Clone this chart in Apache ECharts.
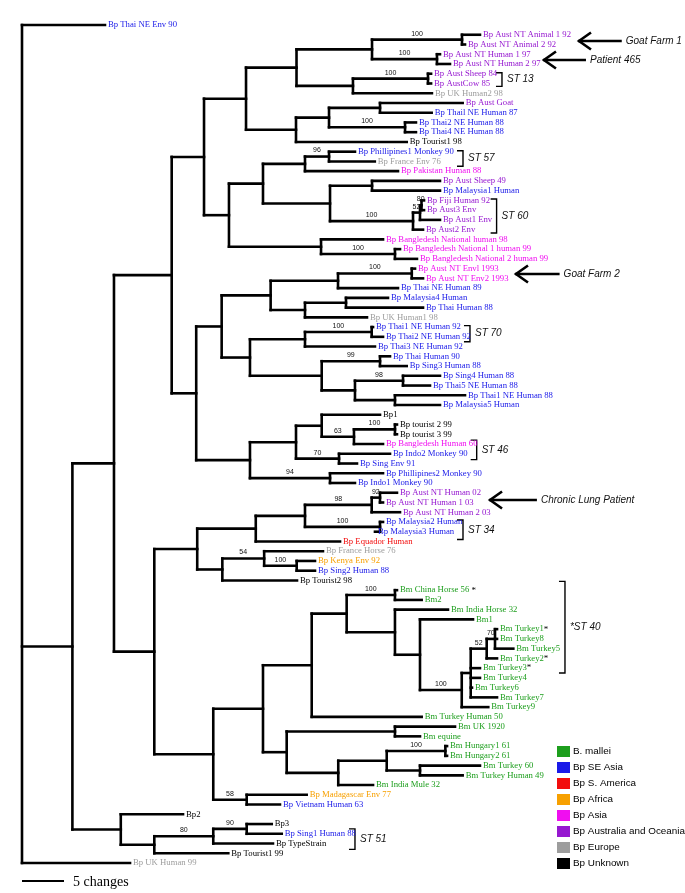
<!DOCTYPE html>
<html><head><meta charset="utf-8">
<script src="https://cdn.jsdelivr.net/npm/echarts@6/dist/echarts.min.js"></script>
<style>html,body{margin:0;padding:0;background:#fff}#c{width:685px;height:893px}</style>
</head><body><div id="c"></div><script>
// ---- leaves (top to bottom) ----
const taxa = ['Bp Thai NE Env 90','Bp Aust NT Animal 1 92','Bp Aust NT Animal 2 92','Bp Aust NT Human 1 97','Bp Aust NT Human 2 97','Bp Aust Sheep 84','Bp AustCow 85','Bp UK Human2 98','Bp Aust Goat','Bp Thail NE Human 87',
'Bp Thai2 NE Human 88','Bp Thai4 NE Human 88','Bp Tourist1 98','Bp Phillipines1 Monkey 90','Bp France Env 76','Bp Pakistan Human 88','Bp Aust Sheep 49','Bp Malaysia1 Human','Bp Fiji Human 92','Bp Aust3 Env',
'Bp Aust1 Env','Bp Aust2 Env','Bp Bangledesh National human 98','Bp Bangledesh National 1 human 99','Bp Bangledesh National 2 human 99','Bp Aust NT Envl 1993','Bp Aust NT Env2 1993','Bp Thai NE Human 89','Bp Malaysia4 Human','Bp Thai Human 88',
'Bp UK Human1 98','Bp Thai1 NE Human 92','Bp Thai2 NE Human 92','Bp Thai3 NE Human 92','Bp Thai Human 90','Bp Sing3 Human 88','Bp Sing4 Human 88','Bp Thai5 NE Human 88','Bp Thai1 NE Human 88','Bp Malaysia5 Human',
'Bp1','Bp tourist 2 99','Bp tourist 3 99','Bp Bangledesh Human 60','Bp Indo2 Monkey 90','Bp Sing Env 91','Bp Phillipines2 Monkey 90','Bp Indo1 Monkey 90','Bp Aust NT Human 02','Bp Aust NT Human 1 03',
'Bp Aust NT Human 2 03','Bp Malaysia2 Human','Bp Malaysia3 Human','Bp Equador Human','Bp France Horse 76','Bp Kenya Env 92','Bp Sing2 Human 88','Bp Tourist2 98','Bm China Horse 56 *','Bm2',
'Bm India Horse 32','Bm1','Bm Turkey1*','Bm Turkey8','Bm Turkey5','Bm Turkey2*','Bm Turkey3*','Bm Turkey4','Bm Turkey6','Bm Turkey7',
'Bm Turkey9','Bm Turkey Human 50','Bm UK 1920','Bm equine','Bm Hungary1 61','Bm Hungary2 61','Bm Turkey 60','Bm Turkey Human 49','Bm India Mule 32','Bp Madagascar Env 77',
'Bp Vietnam Human 63','Bp2','Bp3','Bp Sing1 Human 88','Bp TypeStrain','Bp Tourist1 99','Bp UK Human 99'];
// colour group of each leaf (index into groupNames), as coloured in the figure
const taxonGroup = [1,5,5,5,5,5,5,6,5,1, 1,1,7,1,6,4,5,1,5,5, 5,5,4,4,4,4,4,1,1,1, 6,1,1,1,1,1,1,1,1,1, 7,7,7,4,1,1,1,1,5,5, 5,1,1,2,6,3,1,7,0,0, 0,0,0,0,0,0,0,0,0,0, 0,0,0,0,0,0,0,0,0,3, 1,7,7,1,7,7,6];
// distance from root to each tip, in "changes"
const tipDepth = [9.88,54.52,52.74,49.76,50.95,48.7,48.7,48.8,52.46,48.77, 46.9,46.9,45.8,39.64,42.0,44.76,49.76,49.76,47.86,47.86, 49.76,47.74,42.98,45.0,47.02,46.79,47.74,44.76,43.57,47.74, 41.07,41.79,42.98,42.02,43.81,45.8,49.76,48.57,52.74,49.76, 42.62,44.64,44.64,42.98,43.81,39.88,42.98,39.64,44.64,42.98, 45.0,42.98,42.02,37.86,35.83,34.88,34.88,32.74,44.64,47.58, 50.71,53.69,56.55,56.55,58.49,56.55,54.52,54.52,53.57,56.55, 55.51,47.58,51.55,47.38,50.6,50.6,54.52,52.46,41.79,33.89, 30.71,19.17,29.73,30.92,29.88,24.56,12.86];
const groupNames = ['B. mallei','Bp SE Asia','Bp S. America','Bp Africa','Bp Asia','Bp Australia and Oceania','Bp Europe','Bp Unknown'];
const groupColors = ['#1d9e1d','#1a1ae8','#f20d0d','#f7a000','#f00ef0','#9618d0','#9d9d9d','#000000'];
// ---- internal nodes: [id, depth (changes), children (leaf number or node id), bootstrap] ----
const clades = [
['root',0,[1,'N1',87]], ['N1',6.0,['N2','BB']], ['N2',10.95,['P13','N4']], ['P13',17.82,['P5','N6']],
['P5',21.67,['P2','P6']], ['P2',26.67,['P1','P3']], ['P1',32.68,['AN','SCU']], ['AN',41.67,['AM','HU']],
['AM',52.38,[2,3],100], ['HU',49.4,[4,5],100], ['SCU',39.4,['SC',8]], ['SC',48.33,[6,7],100],
['P3',32.62,['P4',13]], ['P4',36.55,['GT','TT']], ['GT',42.62,[9,10]], ['TT',45.6,[11,12],100],
['P6',24.64,['P7','P11']], ['P7',28.69,['P8','P10']], ['P8',33.69,['P9',16]], ['P9',36.55,[14,15],96],
['P10',36.67,['Q1','Q2']], ['Q1',41.67,[17,18]], ['Q2',46.55,['Q4',22],100], ['Q4',47.38,['Q5',21],52],
['Q5',47.56,[19,20],80], ['P11',35.6,[23,'P12']], ['P12',44.4,[24,25],100],
['N6',20.74,['R6','S6']], ['R6',23.77,['R5','R14']], ['R5',29.6,['R2','R3']], ['R2',37.62,['R1',28]],
['R1',46.4,[26,27],100], ['R3',33.69,['R4',31]], ['R4',38.57,[29,30]], ['R14',27.14,['R8','R10']],
['R8',33.69,['R7',34]], ['R7',41.63,[32,33],100], ['R10',35.68,['R9','R13']], ['R9',42.62,[35,36],99],
['R13',39.64,['R11','R12']], ['R11',45.36,[37,38],98], ['R12',44.4,[39,40]],
['S6',27.14,['S4','S5']], ['S4',32.62,['S2','S3']], ['S2',35.68,[41,'S1']], ['S1',39.52,['T23',44],63],
['T23',44.4,[42,43],100], ['S3',37.74,[45,46],70], ['S5',36.67,[47,48],94],
['N4',15.75,['V6','X2']], ['V6',20.86,['V5','V3']], ['V5',27.83,['T3',54]], ['T3',33.69,['T2','T4']],
['T2',41.63,['T1',51],98], ['T1',42.62,[49,50],92], ['T4',42.62,[52,53],100],
['V3',23.85,['V2',58]], ['V2',28.83,[55,'U1'],54], ['U1',32.7,[56,57],100],
['X2',22.77,['BM0','X1']], ['BM0',28.69,['AB','Y3']], ['AB',34.49,['AA2',72]], ['AA2',38.65,['AA1','AA3']],
['AA1',44.4,[59,60],100], ['AA3',44.4,[61,'Z5']], ['Z5',47.38,[62,'Z4']], ['Z4',52.35,['Z3',71],100],
['Z3',53.42,['Z2',67,68,69,70]], ['Z2',55.32,['Z1',66],52], ['Z1',56.31,[63,64,65],70],
['Y3',31.51,['AC','Y2']], ['AC',44.4,[73,74]], ['Y2',37.65,['Y1',79]], ['Y1',43.42,['HG','TK']],
['HG',50.4,[75,76],100], ['TK',47.38,[77,78]], ['X1',26.75,[80,81],58],
['BB',11.76,[82,'W3']], ['W3',15.75,['W2',86]], ['W2',22.77,['W1',85],80], ['W1',26.75,[83,84],90]
];
// ---- annotations ----
const stLabels = ['ST 13','ST 57','ST 60','ST 70','ST 46','ST 34','*ST 40','ST 51'];
const stX = [57.14,52.5,56.5,53.33,54.13,52.5,64.64,39.64];
const stFrom = [5.9,13.9,18.85,31.85,43.6,51.8,58.1,83.5];
const stTo = [7.3,15.5,22.35,33.5,45.6,53.8,67.5,85.6];
const arrowLabels = ['Goat Farm 1','Patient 465','Goat Farm 2','Chronic Lung Patient'];
const arrowY = [2.64,4.59,26.55,49.75];
const arrowTip = [66.19,62.02,58.69,55.6];
const arrowTail = [71.4,67.14,64.0,61.3];
const scaleBar = [0,5,88.85];

// ---- build tree geometry ----
const byId = {}; clades.forEach(c => byId[c[0]] = c);
const pos = {}, parentDepth = {};
function place(ch){
  if (typeof ch === 'number') return {x: tipDepth[ch-1], y: ch};
  if (pos[ch]) return pos[ch];
  const c = byId[ch];
  const kids = c[2].map(place);
  c[2].forEach(k => { if (typeof k !== 'number') parentDepth[k] = c[1]; });
  return pos[ch] = {x: c[1], y: (kids[0].y + kids[kids.length-1].y)/2};
}
place('root');
const segs = [];
clades.forEach(c => {
  const p = pos[c[0]]; const kids = c[2].map(place);
  segs.push([p.x, kids[0].y, p.x, kids[kids.length-1].y]);
  kids.forEach(k => segs.push([p.x, k.y, k.x, k.y]));
});
const boot = clades.filter(c => c[3] != null).map(c => [(parentDepth[c[0]] + c[1])/2, pos[c[0]].y, c[3]]);

const leafSeries = groupNames.map((g, gi) => ({
  type:'scatter', name:g, symbolSize:0, silent:true,
  itemStyle:{color:groupColors[gi], opacity:1},
  data: taxa.map((t,i)=>[tipDepth[i], i+1, t, taxonGroup[i]]).filter(d=>d[3]===gi),
  label:{show:true, position:'right', distance:3, color:groupColors[gi],
    fontFamily:'Liberation Serif', fontSize:8.7,
    formatter: p => { const n = p.data[2]; return n.endsWith('*') ? '{t|'+n.slice(0,-1)+'}{s|*}' : '{t|'+n+'}'; },
    rich:{ t:{color:groupColors[gi], fontFamily:'Liberation Serif', fontSize:8.7}, s:{color:'#000', fontFamily:'Liberation Serif', fontSize:9} } }
}));

const chart = echarts.init(document.getElementById('c'));
chart.setOption({
  animation:false, backgroundColor:'#fff',
  grid:{left:22, top:15.26, width:630, height:877},
  xAxis:{type:'value', min:0, max:75, show:false},
  yAxis:{type:'value', min:0, max:90, inverse:true, show:false},
  legend:{data:groupNames, orient:'vertical', left:557, top:746, padding:0, itemWidth:13, itemHeight:11, itemGap:5,
    icon:'rect', selectedMode:false, textStyle:{fontFamily:'Liberation Sans', fontSize:9.9, color:'#000', lineHeight:11, padding:[0,0,0,-2]}},
  series:[
    {type:'custom', silent:true, clip:false, data:segs, encode:{x:[0,2], y:[1,3]},
     renderItem:(params, api)=>{ const a=api.coord([api.value(0),api.value(1)]), b=api.coord([api.value(2),api.value(3)]);
       return {type:'line', shape:{x1:a[0],y1:a[1],x2:b[0],y2:b[1]}, style:{stroke:'#000', lineWidth:2.6, lineCap:'square'}}; }},
    {type:'scatter', symbolSize:0, silent:true, data:boot, itemStyle:{opacity:1},
     label:{show:true, position:'top', distance:2.5, formatter:p=>String(p.data[2]), fontFamily:'Liberation Sans', fontSize:7, color:'#111'}},
    {type:'custom', silent:true, clip:false, data:stLabels.map((l,i)=>[stX[i], stFrom[i], stTo[i]]),
     renderItem:(params, api)=>{ const t=api.coord([api.value(0),api.value(1)]), b=api.coord([api.value(0),api.value(2)]);
       return {type:'group', children:[
         {type:'polyline', shape:{points:[[t[0]-6,t[1]],[t[0],t[1]],[b[0],b[1]],[b[0]-6,b[1]]]}, style:{stroke:'#000', lineWidth:1.4, fill:null}},
         {type:'text', style:{x:t[0]+5, y:(t[1]+b[1])/2, text:stLabels[params.dataIndex], font:'italic 10px "Liberation Sans"', fill:'#111', verticalAlign:'middle'}}]}; }},
    {type:'custom', silent:true, clip:false, data:arrowLabels.map((l,i)=>[arrowTip[i], arrowTail[i], arrowY[i]]),
     renderItem:(params, api)=>{ const a=api.coord([api.value(0),api.value(2)]), b=api.coord([api.value(1),api.value(2)]);
       return {type:'group', children:[
         {type:'line', shape:{x1:a[0],y1:a[1],x2:b[0],y2:b[1]}, style:{stroke:'#000', lineWidth:2.6}},
         {type:'polyline', shape:{points:[[a[0]+13,a[1]-8.5],[a[0]+1,a[1]],[a[0]+13,a[1]+8.5]]}, style:{stroke:'#000', lineWidth:2.6, fill:null, lineJoin:'miter'}},
         {type:'text', style:{x:b[0]+4, y:a[1], text:arrowLabels[params.dataIndex], font:'italic 10px "Liberation Sans"', fill:'#111', verticalAlign:'middle'}}]}; }},
    {type:'custom', silent:true, clip:false, data:[scaleBar],
     renderItem:(params, api)=>{ const a=api.coord([api.value(0),api.value(2)]), b=api.coord([api.value(1),api.value(2)]);
       return {type:'group', children:[
         {type:'line', shape:{x1:a[0],y1:a[1],x2:b[0],y2:b[1]}, style:{stroke:'#000', lineWidth:2}},
         {type:'text', style:{x:b[0]+9, y:a[1]+1, text:'5 changes', font:'14px "Liberation Serif"', fill:'#000', verticalAlign:'middle'}}]}; }},
    ...leafSeries
  ]
});
</script></body></html>
